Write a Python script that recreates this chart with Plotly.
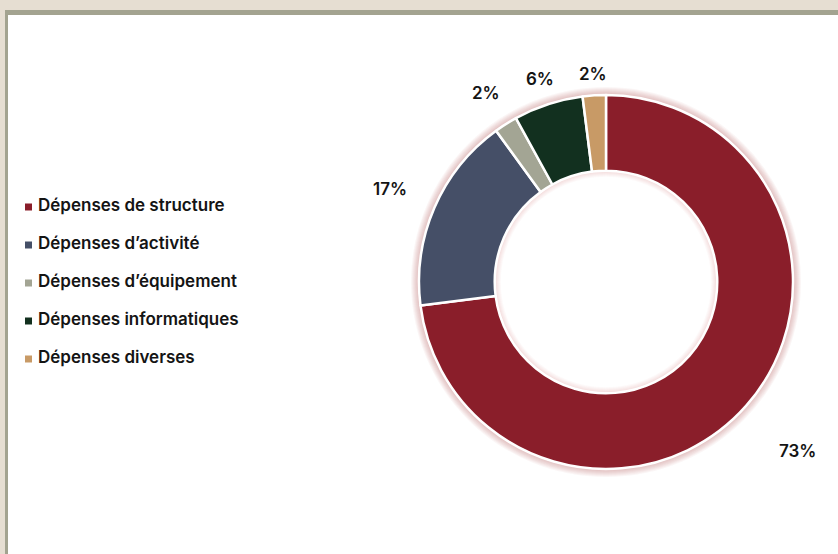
import math
import plotly.graph_objects as go

# ---- data ----
categories = ["Dépenses de structure", "Dépenses d’activité", "Dépenses d’équipement",
              "Dépenses informatiques", "Dépenses diverses"]
values = [73, 17, 2, 6, 2]
pct_labels = ["73%", "17%", "2%", "6%", "2%"]

# ---- style ----
colors = ["#8A1E2A", "#454F67", "#A3A594", "#12301F", "#C89A66"]
W, H = 838, 554
CX, CY, R = 606, 282, 187          # donut centre / outer radius (px)
HOLE = 0.595
label_dist = [255, 235, 224, 213, 208]   # distance of % labels from centre (px)
FONT = "Inter, Roboto, 'Liberation Sans', Arial, sans-serif"
TXT = "#141414"
leg_x, leg_text_x, leg_y0, leg_dy = 28.5, 38, 207, 38


def dom(radius):
    return dict(x=[(CX - radius) / W, (CX + radius) / W],
                y=[(H - CY - radius) / H, (H - CY + radius) / H])


fig = go.Figure()

# soft glow outside the ring and inside the hole
for k in range(1, 9):
    fig.add_trace(go.Pie(values=[1], domain=dom(R + k), hole=R / (R + k), sort=False,
                         marker=dict(colors=["rgba(185,85,75,0.05)"], line=dict(width=0)),
                         textinfo="none", hoverinfo="skip", showlegend=False))
r_in = R * HOLE
for k in range(1, 7):
    fig.add_trace(go.Pie(values=[1], domain=dom(r_in), hole=(r_in - k) / r_in, sort=False,
                         marker=dict(colors=["rgba(185,85,75,0.035)"], line=dict(width=0)),
                         textinfo="none", hoverinfo="skip", showlegend=False))

# main donut
fig.add_trace(go.Pie(labels=categories, values=values, domain=dom(R), hole=HOLE,
                     sort=False, direction="clockwise", rotation=0,
                     marker=dict(colors=colors, line=dict(color="white", width=2.5)),
                     textinfo="none", showlegend=False))

# legend built from the categories: square markers + text
ys = [leg_y0 + i * leg_dy for i in range(len(categories))]
fig.add_trace(go.Scatter(
    x=[leg_x] * len(categories), y=ys, mode="markers",
    marker=dict(symbol="square", size=7, color=colors),
    hoverinfo="skip", showlegend=False))
fig.add_trace(go.Scatter(
    x=[leg_text_x] * len(categories), y=ys, mode="text", text=categories,
    textposition="middle right",
    textfont=dict(family=FONT, size=17, color=TXT, weight=600),
    hoverinfo="skip", showlegend=False))

# percentage labels at slice mid-angles
total = sum(values)
cum = 0
for v, lab, d in zip(values, pct_labels, label_dist):
    theta = math.radians(360 * (cum + v / 2) / total)
    cum += v
    fig.add_annotation(x=CX + d * math.sin(theta), y=CY - d * math.cos(theta),
                       xref="x", yref="y", text=lab, showarrow=False,
                       font=dict(family=FONT, size=17, color=TXT, weight=600))

# frame
shapes = [
    dict(type="rect", x0=0, x1=W, y0=0, y1=10, fillcolor="#E6DED2", line_width=0),
    dict(type="rect", x0=0, x1=5, y0=0, y1=H, fillcolor="#E6DED2", line_width=0),
    dict(type="rect", x0=5, x1=W, y0=10, y1=15, fillcolor="#A3A390", line_width=0),
    dict(type="rect", x0=5, x1=8, y0=10, y1=H, fillcolor="#A3A390", line_width=0),
]
for s in shapes:
    s.update(xref="x", yref="y", layer="below")

fig.update_layout(
    width=W, height=H, margin=dict(l=0, r=0, t=0, b=0),
    paper_bgcolor="white", plot_bgcolor="white",
    xaxis=dict(range=[0, W], visible=False, fixedrange=True),
    yaxis=dict(range=[H, 0], visible=False, fixedrange=True),
    shapes=shapes, showlegend=False,
)

fig.write_html("out.html", config={"displayModeBar": False},
               post_script="document.body.style.margin='0';document.body.style.overflow='hidden';")
